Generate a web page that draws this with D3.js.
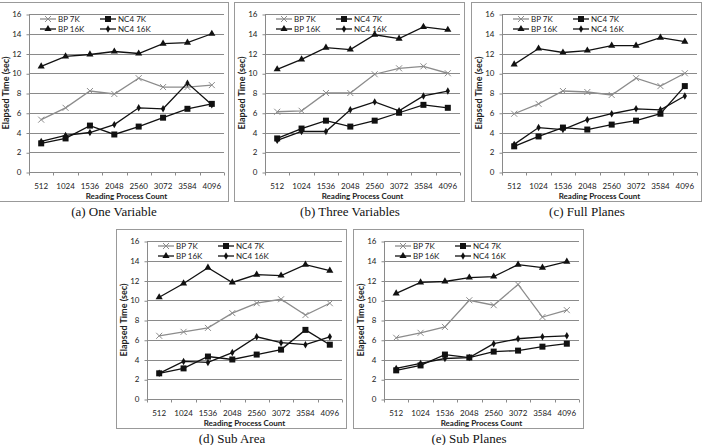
<!DOCTYPE html>
<html lang="en">
<head>
<meta charset="utf-8">
<title>Elapsed time vs reading process count</title>
<script src="https://cdn.jsdelivr.net/npm/d3@7"></script>
<style>
  body { margin: 0; background: #fff; }
  .tick text { font-family: Lato, "Liberation Sans", sans-serif; font-size: 8px; fill: #222; }
  .legend text { font-family: Lato, "Liberation Sans", sans-serif; font-size: 8px; fill: #222; }
  .axtitle { font-family: Lato, "Liberation Sans", sans-serif; font-size: 8px; font-weight: bold; fill: #222; }
  .ytitle { font-size: 9px; }
  .caption { font-family: "Liberation Serif", "DejaVu Serif", serif; font-size: 13px; fill: #111; }
</style>
</head>
<body>
<script>
// x categories and y ticks
const categories = ["512", "1024", "1536", "2048", "2560", "3072", "3584", "4096"];
const yTicks = [0, 2, 4, 6, 8, 10, 12, 14, 16];
const seriesNames = ["BP 7K", "NC4 7K", "BP 16K", "NC4 16K"];
const captions = ["(a) One Variable", "(b) Three Variables", "(c) Full Planes", "(d) Sub Area", "(e) Sub Planes"];

// one row per panel (a..e)
const bp7k = [
  [5.3, 6.5, 8.2, 7.9, 9.5, 8.6, 8.6, 8.8],
  [6.1, 6.2, 8.0, 8.0, 9.9, 10.5, 10.7, 10.0],
  [5.9, 6.9, 8.2, 8.1, 7.8, 9.5, 8.7, 10.0],
  [6.4, 6.8, 7.2, 8.7, 9.7, 10.1, 8.5, 9.7],
  [6.2, 6.7, 7.3, 10.0, 9.5, 11.6, 8.3, 9.0]
];
const nc47k = [
  [2.9, 3.4, 4.7, 3.8, 4.6, 5.5, 6.4, 6.9],
  [3.4, 4.4, 5.2, 4.6, 5.2, 6.0, 6.8, 6.5],
  [2.6, 3.6, 4.5, 4.3, 4.8, 5.2, 5.9, 8.7],
  [2.6, 3.1, 4.3, 4.0, 4.5, 5.0, 7.0, 5.5],
  [2.9, 3.4, 4.5, 4.2, 4.8, 4.9, 5.3, 5.6]
];
const bp16k = [
  [10.7, 11.7, 11.9, 12.2, 12.0, 13.0, 13.1, 14.0],
  [10.4, 11.4, 12.6, 12.4, 13.9, 13.5, 14.7, 14.4],
  [10.9, 12.5, 12.1, 12.3, 12.8, 12.8, 13.6, 13.2],
  [10.3, 11.7, 13.3, 11.8, 12.6, 12.5, 13.6, 13.0],
  [10.7, 11.8, 11.9, 12.3, 12.4, 13.6, 13.3, 13.9]
];
const nc416k = [
  [3.1, 3.7, 4.0, 4.8, 6.5, 6.4, 9.0, 6.8],
  [3.2, 4.1, 4.1, 6.3, 7.1, 6.2, 7.7, 8.2],
  [2.8, 4.5, 4.3, 5.3, 5.9, 6.4, 6.3, 7.7],
  [2.6, 3.8, 3.7, 4.7, 6.3, 5.7, 5.5, 6.3],
  [3.1, 3.6, 4.1, 4.2, 5.6, 6.1, 6.3, 6.4]
];

const W = 702, H = 445;
// panel frames (top-left corners)
const panels = [
  {x: -2, y: 2}, {x: 234, y: 2}, {x: 471, y: 2},
  {x: 116, y: 229}, {x: 353, y: 229}
];
const boxW = 230, boxH = 199;
const inner = {left: 31, right: 226, top: 12, bottom: 170};

const styles = [
  {color: "#8c8c8c", shape: "x"},
  {color: "#111", shape: "square"},
  {color: "#111", shape: "triangle"},
  {color: "#111", shape: "diamond"}
];

function markerPath(shape) {
  if (shape === "x") return "M-3,-3L3,3M-3,3L3,-3";
  if (shape === "square") return d3.symbol(d3.symbolSquare, 36)();
  if (shape === "triangle") return d3.symbol(d3.symbolTriangle, 22)();
  return d3.symbol(d3.symbolDiamond, 16)();
}

const svg = d3.select("body").append("svg")
  .attr("width", W).attr("height", H);

panels.forEach((p, i) => {
  const g = svg.append("g").attr("transform", `translate(${p.x},${p.y})`);
  g.append("rect")
    .attr("x", 0.5).attr("y", 0.5)
    .attr("width", boxW).attr("height", boxH)
    .attr("fill", "#fff").attr("stroke", "#999");

  const x = d3.scaleBand().domain(categories).range([inner.left, inner.right]);
  const y = d3.scaleLinear().domain([0, 16]).range([inner.bottom, inner.top]);

  // gridlines
  g.append("g")
    .selectAll("line").data(yTicks.filter(t => t > 0)).join("line")
    .attr("x1", inner.left).attr("x2", inner.right)
    .attr("y1", d => Math.round(y(d)) + 0.5).attr("y2", d => Math.round(y(d)) + 0.5)
    .attr("stroke", "#8a8a8a").attr("stroke-width", 1);

  // y axis
  const gy = g.append("g").attr("transform", `translate(${inner.left + 0.5},0)`)
    .call(d3.axisLeft(y).tickValues(yTicks).tickSize(3).tickPadding(5));
  gy.selectAll("line, path").attr("stroke", "#8a8a8a");
  gy.select(".domain").attr("d", `M0,${y(16)}V${y(0)}`);
  gy.selectAll(".tick line").attr("transform", "translate(0,0.5)");

  // x axis
  const gx = g.append("g").attr("transform", `translate(0,${Math.round(y(0)) + 0.5})`)
    .call(d3.axisBottom(x).tickSize(0).tickPadding(11));
  gx.select(".domain").attr("stroke", "#8a8a8a").attr("d", `M${inner.left},0H${inner.right}`);
  gx.selectAll(".bt").data(categories.map(c => x(c)).concat([inner.right])).join("line")
    .attr("x1", d => Math.round(d) + 0.5).attr("x2", d => Math.round(d) + 0.5)
    .attr("y1", 0).attr("y2", 3).attr("stroke", "#8a8a8a");

  g.append("text").attr("class", "axtitle")
    .attr("x", (inner.left + inner.right) / 2).attr("y", inner.bottom + 27)
    .attr("text-anchor", "middle").text("Reading Process Count");
  g.append("text").attr("class", "axtitle ytitle")
    .attr("transform", `translate(11,${(inner.top + inner.bottom) / 2}) rotate(-90)`)
    .attr("text-anchor", "middle").text("Elapsed Time (sec)");

  // series
  const series = [bp7k[i], nc47k[i], bp16k[i], nc416k[i]];
  const line = d3.line().x((d, k) => x(categories[k]) + x.bandwidth() / 2).y(d => y(d));
  series.forEach((vals, s) => {
    const st = styles[s];
    g.append("path").datum(vals)
      .attr("d", line).attr("fill", "none")
      .attr("stroke", st.color).attr("stroke-width", 1.3);
    g.append("g").selectAll("path").data(vals).join("path")
      .attr("transform", (d, k) => `translate(${x(categories[k]) + x.bandwidth() / 2},${y(d)})`)
      .attr("d", markerPath(st.shape))
      .attr("fill", st.color)
      .attr("stroke", st.color).attr("stroke-width", st.shape === "x" ? 1 : 0);
  });

  // legend
  const lg = g.append("g").attr("class", "legend");
  seriesNames.forEach((name, s) => {
    const col = s % 2, row = Math.floor(s / 2);
    const lx = inner.left + 11 + col * 60, ly = 17 + row * 10;
    const st = styles[s];
    lg.append("line")
      .attr("x1", lx).attr("x2", lx + 16).attr("y1", ly).attr("y2", ly)
      .attr("stroke", st.color).attr("stroke-width", 1.3);
    lg.append("path").attr("transform", `translate(${lx + 8},${ly})`)
      .attr("d", markerPath(st.shape)).attr("fill", st.color)
      .attr("stroke", st.color).attr("stroke-width", st.shape === "x" ? 1 : 0);
    lg.append("text").attr("x", lx + 18).attr("y", ly + 3).text(name);
  });

  g.append("text").attr("class", "caption")
    .attr("x", boxW / 2 + 1).attr("y", boxH + 15)
    .attr("text-anchor", "middle").text(captions[i]);
});
</script>
</body>
</html>
